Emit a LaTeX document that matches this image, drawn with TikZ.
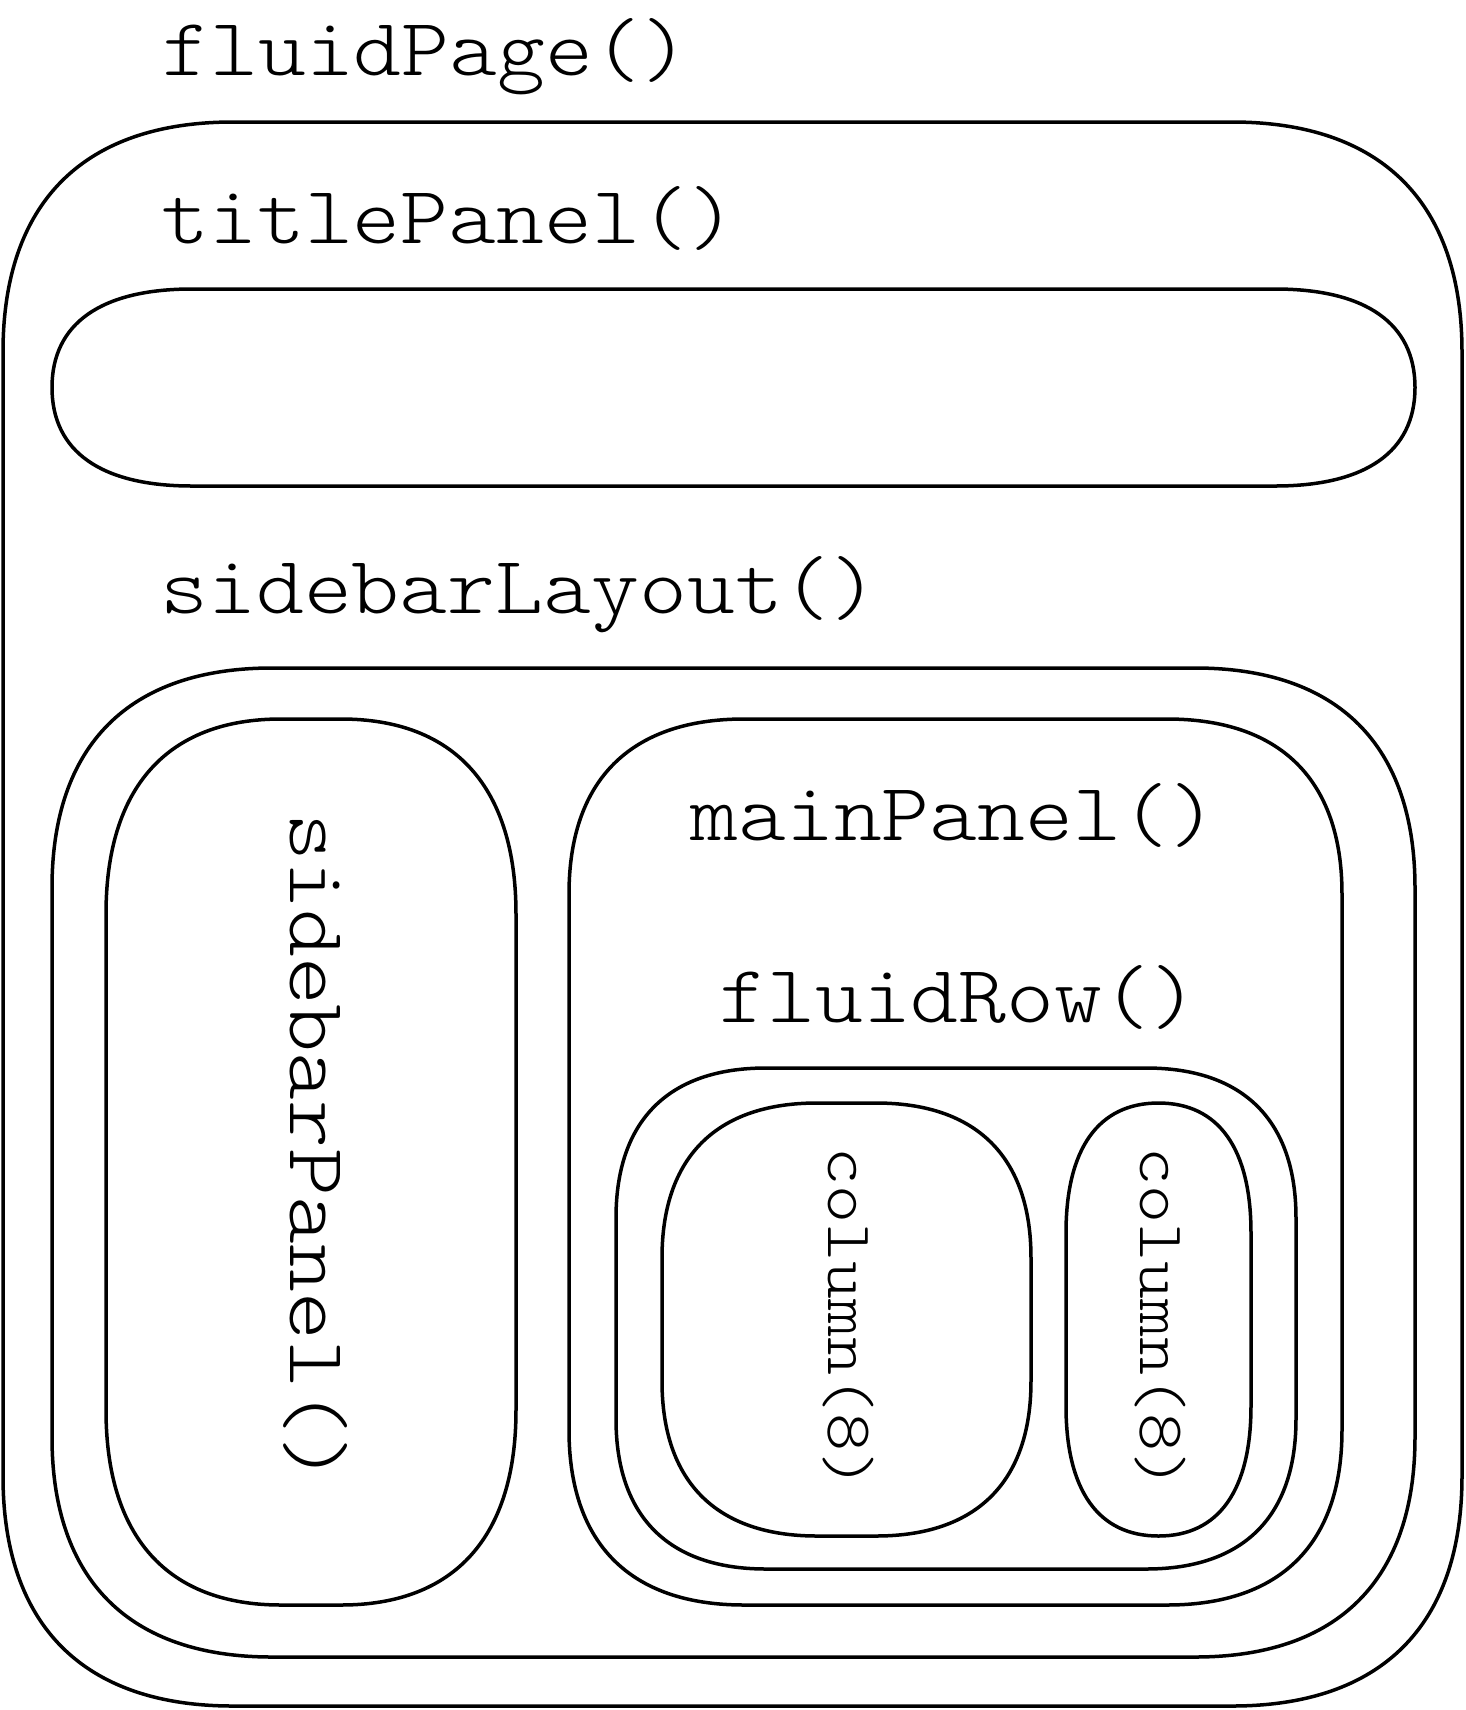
\documentclass[tikz,border=0pt]{standalone}
\usepackage{fontspec}
\newfontfamily\codefont[FakeStretch=1.115]{lmmonolt10-regular.otf}

% fraction of each corner span taken by the Bezier handles
\newcommand\fk{0.65}

% smooth rounded box: x1 y1 x2 y2 rx ry (pixel units, y pointing down)
\newcommand\sqbox[6]{%
  \draw[frame]
    ({#1+#5},#2) -- ({#3-#5},#2)
    .. controls ({#3-#5*(1-\fk)},#2) and (#3,{#2+#6*(1-\fk)}) .. (#3,{#2+#6})
    -- (#3,{#4-#6})
    .. controls (#3,{#4-#6*(1-\fk)}) and ({#3-#5*(1-\fk)},#4) .. ({#3-#5},#4)
    -- ({#1+#5},#4)
    .. controls ({#1+#5*(1-\fk)},#4) and (#1,{#4-#6*(1-\fk)}) .. (#1,{#4-#6})
    -- (#1,{#2+#6})
    .. controls (#1,{#2+#6*(1-\fk)}) and ({#1+#5*(1-\fk)},#2) .. ({#1+#5},#2)
    -- cycle;}

\tikzset{
  frame/.style={line width=1.75pt, line join=round},
  bigtag/.style={inner sep=0pt, anchor=base west, font=\codefont\fontsize{40.9}{44}\selectfont},
  smalltag/.style={inner sep=0pt, anchor=base west, rotate=-90, font=\codefont\fontsize{32.5}{36}\selectfont},
  sidetag/.style={bigtag, rotate=-90},
}

\begin{document}
\begin{tikzpicture}[x=0.5pt, y=-0.5pt]
  \useasboundingbox (0,0) rectangle (1466,1710);

  % page frame
  \sqbox{3}{122}{1462}{1706}{230}{230}
  % title bar
  \sqbox{52}{289}{1415}{486}{140}{98.5}
  % sidebar layout
  \sqbox{52}{668}{1415}{1657}{220}{220}
  % sidebar panel
  \sqbox{106}{719}{516}{1605}{175}{195}
  % main panel
  \sqbox{569}{719}{1342}{1605}{175}{175}
  % fluid row
  \sqbox{616}{1068}{1296}{1569}{150}{150}
  % columns
  \sqbox{662}{1103}{1031}{1536}{155}{155}
  \sqbox{1066}{1103}{1251}{1536}{92.5}{130}

  \node[bigtag] (fp) at (162,75) {fluidPage()};
  \node[bigtag] (tp) at (161,243) {titlePanel()};
  \node[bigtag] (sl) at (160,613) {sidebarLayout()};
  \node[bigtag] (mp) at (690,840) {mainPanel()};
  \node[bigtag] (fr) at (719,1022) {fluidRow()};
  \node[sidetag] (sp) at (290,813) {sidebarPanel()};
  \node[smalltag] (c1) at (828,1147) {column(8)};
  \node[smalltag] (c2) at (1140,1147) {column(8)};
\end{tikzpicture}
\end{document}
